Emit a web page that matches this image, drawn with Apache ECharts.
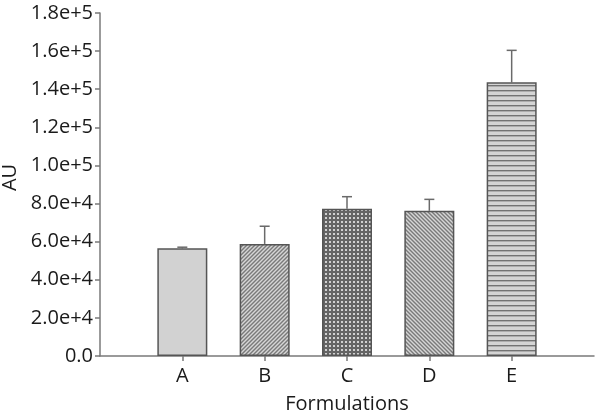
<!DOCTYPE html>
<html><head><meta charset="utf-8">
<script src="https://cdn.jsdelivr.net/npm/echarts@6/dist/echarts.min.js"></script>
<style>html,body{margin:0;padding:0;background:#fff}#c{width:600px;height:414px}</style>
</head><body><div id="c"></div>
<script>
var categories = ['A', 'B', 'C', 'D', 'E'];
var means = [56500, 58800, 77300, 76200, 143600];
var errors = [600, 9300, 6300, 6000, 16800];
var yTicks = [0, 20000, 40000, 60000, 80000, 100000, 120000, 140000, 160000, 180000];

function tile(w, h, draw) {
  var c = document.createElement('canvas'); c.width = w; c.height = h;
  var g = c.getContext('2d'); draw(g, w, h); return c;
}
var patA = '#d2d2d2';
var patB = tile(12, 12, function (g, w, h) {
  g.fillStyle = '#d6d6d6'; g.fillRect(0, 0, w, h);
  g.strokeStyle = '#7a7a7a'; g.lineWidth = 1.4;
  for (var k = -3; k <= 3; k++) { g.beginPath(); g.moveTo(k * 4 - 2, h + 2); g.lineTo(k * 4 + w + 2, -2); g.stroke(); }
});
var patD = tile(12, 12, function (g, w, h) {
  g.fillStyle = '#d6d6d6'; g.fillRect(0, 0, w, h);
  g.strokeStyle = '#7a7a7a'; g.lineWidth = 1.4;
  for (var k = -3; k <= 3; k++) { g.beginPath(); g.moveTo(k * 4 - 2, -2); g.lineTo(k * 4 + w + 2, h + 2); g.stroke(); }
});
var patC = tile(4, 4, function (g, w, h) {
  g.fillStyle = '#646464'; g.fillRect(0, 0, w, h);
  g.fillStyle = '#d0d0d0'; g.fillRect(1, 1, 2, 2);
});
var patE = tile(4, 5, function (g, w, h) {
  g.fillStyle = '#d4d4d4'; g.fillRect(0, 0, w, h);
  g.fillStyle = '#737373'; g.fillRect(0, 0, w, 1.4);
});
var fills = [patA, { image: patB, repeat: 'repeat' }, { image: patC, repeat: 'repeat' }, { image: patD, repeat: 'repeat' }, { image: patE, repeat: 'repeat' }];

var axisCats = [''].concat(categories).concat(['']);
var barData = ['-'].concat(means.map(function (v, i) {
  return { value: v, itemStyle: { color: fills[i] } };
})).concat(['-']);
var errData = categories.map(function (c, i) { return [i + 1, means[i], means[i] + errors[i]]; });

var font = 'Open Sans';
var fs = 20;
var tc = '#1a1a1a';
var chart = echarts.init(document.getElementById('c'), null, { renderer: 'canvas' });
chart.setOption({
  animation: false,
  grid: { left: 100, right: 6, top: 13, bottom: 58, containLabel: false, outerBoundsMode: 'none' },
  xAxis: {
    type: 'category', data: axisCats, boundaryGap: false,
    name: 'Formulations', nameLocation: 'middle', nameGap: 38,
    nameTextStyle: { fontFamily: font, fontSize: fs, color: tc },
    axisLine: { lineStyle: { color: '#7a7a7a', width: 1.5 } },
    axisTick: { show: true, length: 5, interval: function (i) { return i > 0 && i < 6; }, lineStyle: { color: '#7a7a7a', width: 1.5 } },
    axisLabel: { fontFamily: font, fontSize: fs, color: tc, margin: 10, interval: 0 },
    splitLine: { show: false }
  },
  yAxis: {
    type: 'value', min: yTicks[0], max: yTicks[yTicks.length - 1], interval: yTicks[1] - yTicks[0],
    name: 'AU', nameLocation: 'middle', nameGap: 74,
    nameTextStyle: { fontFamily: font, fontSize: fs, color: tc, padding: [0, 0, 0, 14] },
    axisLine: { show: true, lineStyle: { color: '#7a7a7a', width: 1.5 } },
    axisTick: { show: true, length: 5, lineStyle: { color: '#7a7a7a', width: 1.5 } },
    axisLabel: {
      fontFamily: font, fontSize: fs, color: tc, margin: 7,
      formatter: function (v) { return v === 0 ? '0.0' : v.toExponential(1); }
    },
    splitLine: { show: false }
  },
  series: [
    {
      type: 'bar', data: barData, barWidth: 50,
      itemStyle: { borderColor: '#555', borderWidth: 1.5 }
    },
    {
      type: 'custom', data: errData, z: 1,
      renderItem: function (params, api) {
        var x = api.value(0);
        var p0 = api.coord([x, api.value(1)]);
        var p1 = api.coord([x, api.value(2)]);
        var st = { stroke: '#6a6a6a', lineWidth: 1.5 };
        return {
          type: 'group', children: [
            { type: 'line', shape: { x1: p0[0], y1: p0[1], x2: p1[0], y2: p1[1] }, style: st },
            { type: 'line', shape: { x1: p1[0] - 5, y1: p1[1], x2: p1[0] + 5, y2: p1[1] }, style: st }
          ]
        };
      }
    }
  ]
});
</script></body></html>
